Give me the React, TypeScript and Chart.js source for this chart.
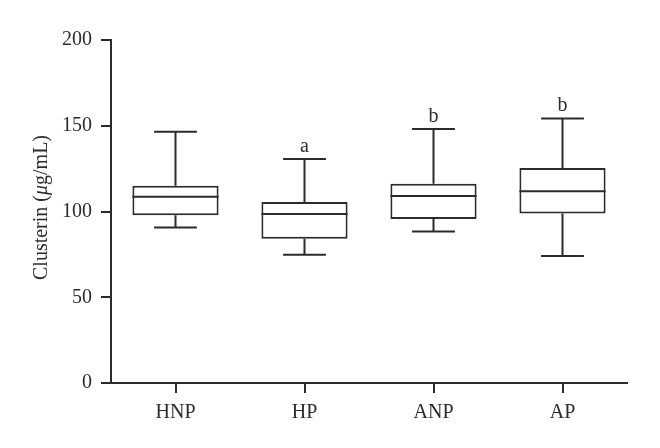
import React, { useEffect, useRef } from "react";
import { Chart, registerables } from "chart.js";

Chart.register(...registerables);

const categories = ["HNP", "HP", "ANP", "AP"];
const minValues = [90.6, 74.8, 88.4, 74.1];
const q1Values = [97.8, 84.1, 95.6, 98.9];
const medianValues = [108.6, 98.5, 109.0, 111.8];
const q3Values = [115.0, 105.5, 116.2, 125.4];
const maxValues = [146.5, 130.6, 148.1, 154.3];
const significance = ["", "a", "b", "b"];
const yTickValues = [0, 50, 100, 150, 200];

const FONT = "'Liberation Serif', 'DejaVu Serif', serif";
const INK = "#2b2b2b";

const boxPlotPlugin = {
  id: "boxPlotExtras",
  afterDatasetsDraw(chart: any) {
    const ctx = chart.ctx;
    const xs = chart.scales.x;
    const ys = chart.scales.y;
    const catW = xs.width / categories.length;
    const capHalf = catW * 0.166;
    const boxHalf = catW * 0.334;
    ctx.save();
    ctx.strokeStyle = INK;
    ctx.lineWidth = 2;
    ctx.lineCap = "butt";
    categories.forEach((_, i) => {
      const x = xs.getPixelForValue(i);
      const yMin = ys.getPixelForValue(minValues[i]);
      const yQ1 = ys.getPixelForValue(q1Values[i]);
      const yMed = ys.getPixelForValue(medianValues[i]);
      const yQ3 = ys.getPixelForValue(q3Values[i]);
      const yMax = ys.getPixelForValue(maxValues[i]);
      ctx.beginPath();
      ctx.moveTo(x, yQ3);
      ctx.lineTo(x, yMax);
      ctx.moveTo(x - capHalf, yMax);
      ctx.lineTo(x + capHalf, yMax);
      ctx.moveTo(x, yQ1);
      ctx.lineTo(x, yMin);
      ctx.moveTo(x - capHalf, yMin);
      ctx.lineTo(x + capHalf, yMin);
      ctx.moveTo(x - boxHalf, yMed);
      ctx.lineTo(x + boxHalf, yMed);
      ctx.stroke();
      if (significance[i]) {
        ctx.fillStyle = INK;
        ctx.font = `20px ${FONT}`;
        ctx.textAlign = "center";
        ctx.textBaseline = "alphabetic";
        ctx.fillText(significance[i], x, yMax - 7);
      }
    });
    ctx.restore();

    const parts = [
      { t: "Clusterin (", f: `20px ${FONT}` },
      { t: "\u03bc", f: `italic 20px ${FONT}` },
      { t: "g/mL)", f: `20px ${FONT}` },
    ];
    ctx.save();
    let total = 0;
    parts.forEach((p) => {
      ctx.font = p.f;
      total += ctx.measureText(p.t).width;
    });
    ctx.translate(42, 207.5);
    ctx.rotate(-Math.PI / 2);
    ctx.fillStyle = INK;
    ctx.textBaseline = "middle";
    ctx.textAlign = "left";
    let x0 = -total / 2;
    parts.forEach((p) => {
      ctx.font = p.f;
      ctx.fillText(p.t, x0, 0);
      x0 += ctx.measureText(p.t).width;
    });
    ctx.restore();
  },
};

export default function App() {
  const canvasRef = useRef<HTMLCanvasElement | null>(null);

  useEffect(() => {
    if (!canvasRef.current) return;
    const chart = new Chart(canvasRef.current, {
      type: "bar",
      data: {
        labels: categories,
        datasets: [
          {
            data: categories.map((_, i) => [q1Values[i], q3Values[i]]) as any,
            backgroundColor: "#ffffff",
            borderColor: INK,
            borderWidth: 2,
            borderSkipped: false,
            barPercentage: 0.668,
            categoryPercentage: 1,
          },
        ],
      },
      options: {
        responsive: false,
        animation: false,
        layout: { padding: { top: 40, right: 33, left: 0, bottom: 0 } },
        plugins: {
          legend: { display: false },
          tooltip: { enabled: false },
          title: { display: false },
        },
        scales: {
          x: {
            offset: true,
            grid: {
              offset: false,
              drawOnChartArea: false,
              drawTicks: true,
              tickLength: 10,
              color: INK,
              lineWidth: 2,
            },
            border: { display: true, color: INK, width: 2 },
            ticks: {
              color: INK,
              font: { family: FONT, size: 20 },
              padding: 8,
              maxRotation: 0,
            },
            afterFit(scale: any) {
              scale.height = 65;
            },
          },
          y: {
            min: 0,
            max: 200,
            afterBuildTicks(scale: any) {
              scale.ticks = yTickValues.map((v) => ({ value: v }));
            },
            grid: {
              drawOnChartArea: false,
              drawTicks: true,
              tickLength: 10,
              color: INK,
              lineWidth: 2,
            },
            border: { display: true, color: INK, width: 2 },
            ticks: {
              color: INK,
              font: { family: FONT, size: 20 },
              padding: 9,
            },
            afterFit(scale: any) {
              scale.width = 111;
            },
          },
        },
      },
      plugins: [boxPlotPlugin],
    });
    return () => chart.destroy();
  }, []);

  return (
    <div
      style={{
        position: "fixed",
        left: 0,
        top: 0,
        width: 660,
        height: 448,
        background: "#ffffff",
      }}
    >
      <canvas ref={canvasRef} width={660} height={448} style={{ width: 660, height: 448 }} />
    </div>
  );
}
